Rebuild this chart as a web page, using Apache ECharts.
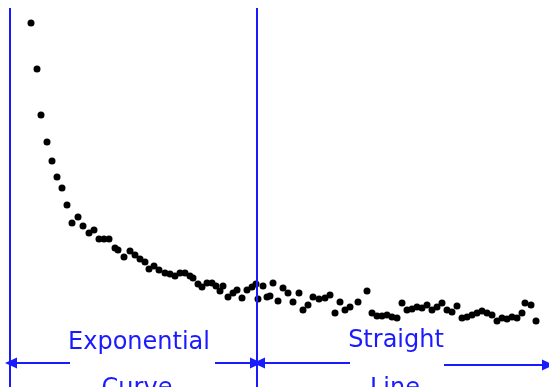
<!DOCTYPE html>
<html>
<head>
<meta charset="utf-8">
<script src="https://cdn.jsdelivr.net/npm/echarts@6/dist/echarts.min.js"></script>
<style>html,body{margin:0;padding:0;background:#fff}#c{width:549px;height:387px}</style>
</head>
<body>
<div id="c"></div>
<script>
// time (x) and value (y) of each sample
const xs = [31,37,41,47,52,57,62,67,72,78,83,89,94,99,104,109,115,118,124,130,135,140,145,149,154,159,165,170,175,180,185,190,193,198,202,207,212,216,220,223,228,233,237,242,247,252,256,258,263,267,270,273,278,283,288,293,299,303,308,313,319,325,330,335,340,345,350,358,367,372,377,382,387,392,397,402,407,412,417,422,427,432,437,442,447,452,457,462,467,472,477,482,487,492,497,502,507,512,517,522,525,531,536];
const ysPx = [23,69,115,142,161,177,188,205,223,217,226,233,230,239,239,239,248,250,257,251,255,259,262,269,266,270,273,274,276,273,273,276,278,284,287,283,283,286,291,286,297,293,290,298,290,287,284,299,286,297,296,283,301,288,293,302,293,310,305,297,299,298,295,313,302,310,307,302,291,313,316,316,315,317,318,303,310,309,307,308,305,310,307,303,310,312,306,318,317,315,313,311,313,315,321,318,319,317,318,313,303,305,321];
const TOP = 387;
const ys = ysPx.map(v => TOP - v);

// annotation layout (in the same axis units)
const dividers = [10, 257];
const dividerTop = 379;
const arrows = [
  [[70,24],[11,24]],
  [[215,24],[256,24]],
  [[350,24],[259,24]],
  [[444,22],[548,22]]
];
const labelTexts = ['Exponential','Curve','Straight','Line'];
const labelPos = [[139,44],[137,1],[396,46],[395,1]];
const labelShift = [0,3,0,3];

const blue = '#1a1aff';
const chart = echarts.init(document.getElementById('c'), null, {renderer:'canvas'});
const pts = xs.map((x,i)=>[x, ys[i]]);

chart.setOption({
  animation:false,
  backgroundColor:'#ffffff',
  grid:{left:0,right:0,top:0,bottom:0},
  xAxis:{type:'value',min:0,max:549,show:false},
  yAxis:{type:'value',min:0,max:387,show:false},
  series:[
    {
      type:'scatter',
      data:pts,
      symbol:'circle',
      symbolSize:7,
      itemStyle:{color:'#000',opacity:1},
      silent:true,
      z:3,
      markLine:{
        silent:true,
        symbol:'none',
        label:{show:false},
        lineStyle:{color:blue,width:2,type:'solid',opacity:1},
        data: dividers.map(x => [{coord:[x,dividerTop]},{coord:[x,0]}])
      }
    },
    {
      type:'scatter',
      data:[],
      silent:true,
      markLine:{
        silent:true,
        symbol:['none','triangle'],
        symbolSize:[11,12],
        label:{show:false},
        itemStyle:{color:blue,opacity:1},
        lineStyle:{color:blue,width:2,type:'solid',opacity:1},
        data: arrows.map(a => [{coord:a[0]},{coord:a[1]}])
      }
    },
    {
      type:'scatter',
      silent:true,
      symbolSize:0,
      itemStyle:{opacity:1},
      data: labelPos.map((p,i)=>({value:p, name:labelTexts[i], label:{offset:[0,labelShift[i]]}})),
      label:{
        show:true,
        position:'inside',
        formatter:p=>p.name,
        color:blue,
        opacity:1,
        fontFamily:'DejaVu Sans',
        fontSize:24
      }
    }
  ]
});
</script>
</body>
</html>
